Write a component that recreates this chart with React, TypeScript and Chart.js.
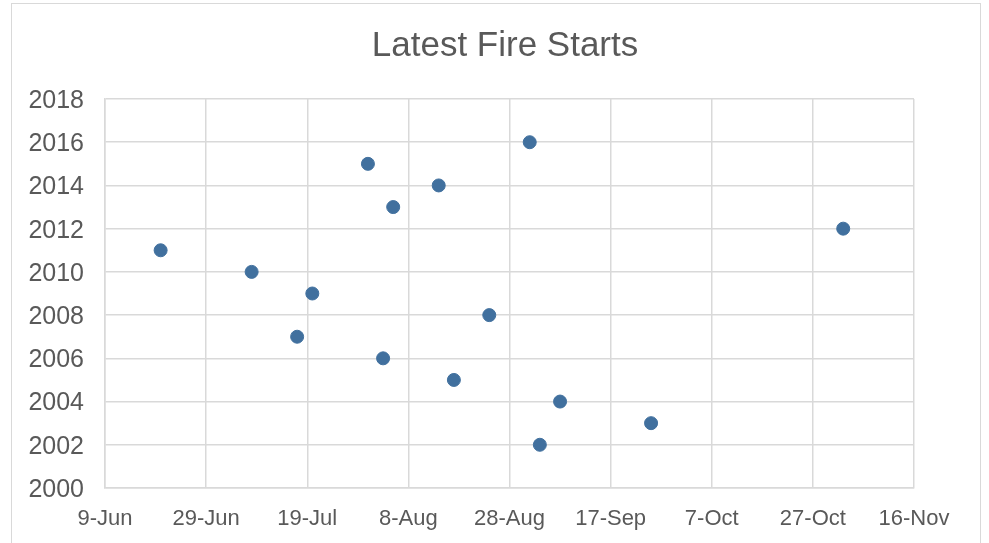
import React, { useEffect, useRef } from "react";
import { Chart, registerables } from "chart.js";

Chart.register(...registerables);

const years = [2002, 2003, 2004, 2005, 2006, 2007, 2008, 2009, 2010, 2011, 2012, 2013, 2014, 2015, 2016];
const startDates = ["3-Sep", "25-Sep", "7-Sep", "17-Aug", "3-Aug", "17-Jul", "24-Aug", "20-Jul", "8-Jul", "20-Jun", "2-Nov", "5-Aug", "14-Aug", "31-Jul", "1-Sep"];
const xTickLabels = ["9-Jun", "29-Jun", "19-Jul", "8-Aug", "28-Aug", "17-Sep", "7-Oct", "27-Oct", "16-Nov"];
const yMin = 2000;
const yMax = 2018;
const yStep = 2;
const xStepDays = 20;

const MONTHS = ["Jan", "Feb", "Mar", "Apr", "May", "Jun", "Jul", "Aug", "Sep", "Oct", "Nov", "Dec"];
function dayOffset(label: string): number {
  const [d, m] = label.split("-");
  const t = Date.UTC(2001, MONTHS.indexOf(m), parseInt(d, 10));
  const base = Date.UTC(2001, 5, 9);
  return Math.round((t - base) / 86400000);
}

const FONT = "'Liberation Sans', Arial, sans-serif";
const TEXT = "#595959";
const GRID = "#d9d9d9";

export default function App() {
  const ref = useRef<HTMLCanvasElement | null>(null);
  useEffect(() => {
    if (!ref.current) return;
    const data = years.map((y, i) => ({ x: dayOffset(startDates[i]), y }));
    const chart = new Chart(ref.current, {
      type: "scatter",
      data: {
        datasets: [
          {
            label: "Latest Fire Starts",
            data,
            backgroundColor: "#41709e",
            borderColor: "#41709e",
            pointRadius: 6.5,
            pointHoverRadius: 6.5,
          },
        ],
      },
      options: {
        animation: false,
        responsive: false,
        maintainAspectRatio: false,
        layout: { padding: { left: 21, right: 0, top: 0, bottom: 0 } },
        plugins: {
          legend: { display: false },
          tooltip: { enabled: false },
          title: {
            display: true,
            text: "Latest Fire Starts",
            color: TEXT,
            font: { family: FONT, size: 35, weight: "normal", lineHeight: 1.2 },
            padding: { top: 25, bottom: 32 },
          },
        },
        scales: {
          x: {
            type: "linear",
            min: 0,
            max: (xTickLabels.length - 1) * xStepDays,
            afterFit: (s: any) => { s.height = 55; },
            grid: { color: GRID, lineWidth: 1.5, drawTicks: false },
            border: { color: GRID, width: 1.5 },
            ticks: {
              stepSize: xStepDays,
              padding: 18,
              color: TEXT,
              font: { family: FONT, size: 22 },
              maxRotation: 0,
              callback: (v: any) => xTickLabels[Math.round(Number(v) / xStepDays)] ?? "",
            },
          },
          y: {
            min: yMin,
            max: yMax,
            afterFit: (s: any) => { s.width = 84; },
            grid: { color: GRID, lineWidth: 1.5, drawTicks: false },
            border: { color: GRID, width: 1.5 },
            ticks: {
              stepSize: yStep,
              padding: 21,
              labelOffset: 2,
              color: TEXT,
              font: { family: FONT, size: 25 },
              callback: (v: any) => String(v),
            },
          },
          yRight: {
            position: "right",
            min: yMin,
            max: yMax,
            afterFit: (s: any) => { s.width = 75; },
            grid: { display: false, drawTicks: false },
            border: { display: false },
            ticks: { display: false },
          },
        },
      },
    });
    return () => chart.destroy();
  }, []);

  return (
    <div style={{ position: "fixed", left: 0, top: 0, width: 989, height: 543, overflow: "hidden", background: "#fff" }}>
      <div style={{ position: "absolute", left: 11, top: 3, width: 968, height: 600, border: "1.5px solid #d9d9d9" }} />
      <canvas ref={ref} width={989} height={543} style={{ position: "absolute", left: 0, top: 0, width: 989, height: 543 }} />
    </div>
  );
}
